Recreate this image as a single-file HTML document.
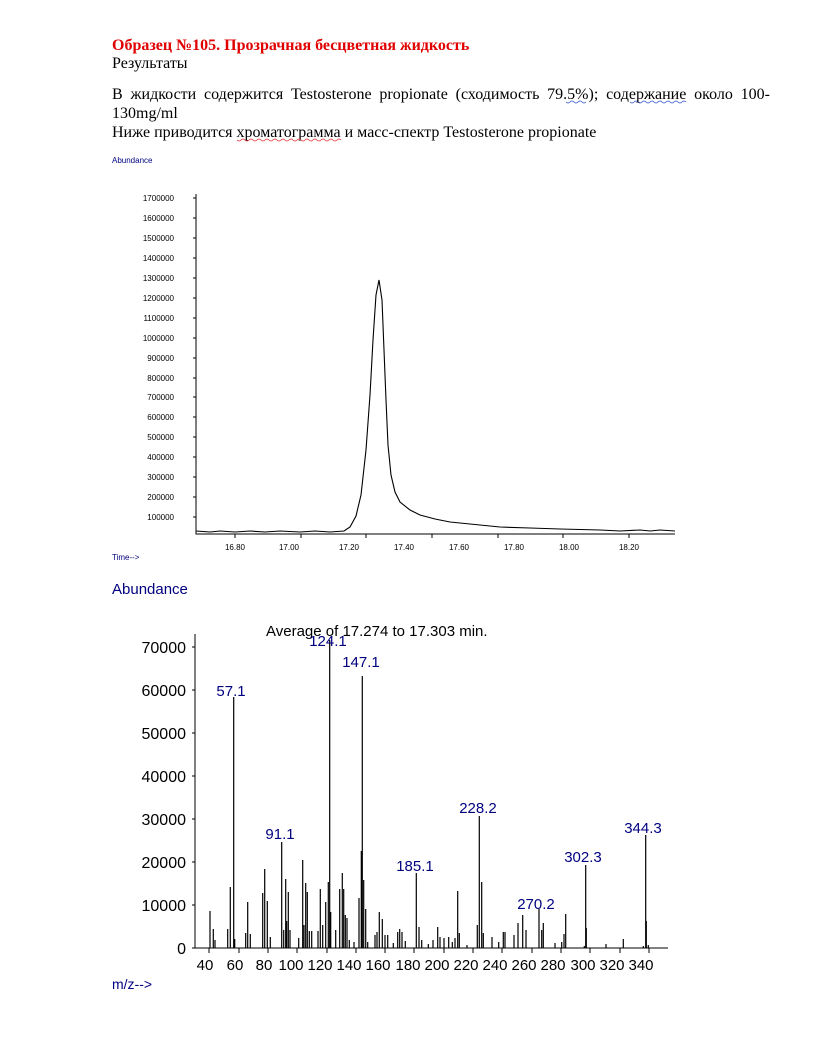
<!DOCTYPE html>
<html><head><meta charset="utf-8"><style>
html,body{margin:0;padding:0;background:#fff;}
svg{display:block;}
.s{font-family:"Liberation Serif","DejaVu Serif",serif;font-size:16px;}
.a{font-family:"Liberation Sans",Arial,sans-serif;}
.j{position:absolute;left:112px;top:86px;width:658px;font-family:"Liberation Serif","DejaVu Serif",serif;font-size:16px;line-height:17px;text-align:justify;text-align-last:justify;white-space:nowrap;}
</style></head><body>
<div style="position:relative;width:815px;height:1055px;">
<svg width="815" height="1055" viewBox="0 0 815 1055" xmlns="http://www.w3.org/2000/svg" style="position:absolute;left:0;top:0">
<rect width="815" height="1055" fill="#fff"/>
<text class="s" x="112" y="50" fill="#e00000" font-weight="bold">Образец №105. Прозрачная бесцветная жидкость</text>
<text class="s" x="112" y="68" fill="#000">Результаты</text>
<text class="s" x="112" y="118" fill="#000">130mg/ml</text>
<text class="s" x="112" y="137" fill="#000">Ниже приводится хроматограмма и масс-спектр Testosterone propionate</text>
<path d="M566 102 q2 2 4 0 t4 0 t4 0 t4 0 t4 0 M630 102 q2 2 4 0 t4 0 t4 0 t4 0 t4 0 t4 0 t4 0 t4 0 t4 0 t4 0 t4 0 t4 0 t4 0 t4 0" stroke="#3050d0" stroke-width="0.7" fill="none"/>
<path d="M237 140 q2 2 4 0 t4 0 t4 0 t4 0 t4 0 t4 0 t4 0 t4 0 t4 0 t4 0 t4 0 t4 0 t4 0 t4 0 t4 0 t4 0 t4 0 t4 0 t4 0 t4 0 t4 0 t4 0 t4 0 t4 0 t4 0 t4 0" stroke="#e03030" stroke-width="0.7" fill="none"/>

<text class="a" x="112" y="163" font-size="8" fill="#000080">Abundance</text>
<g class="a" font-size="8" fill="#000" text-anchor="end">
<text x="174" y="201">1700000</text><text x="174" y="221">1600000</text><text x="174" y="241">1500000</text><text x="174" y="261">1400000</text><text x="174" y="281">1300000</text><text x="174" y="301">1200000</text><text x="174" y="321">1100000</text><text x="174" y="341">1000000</text><text x="174" y="361">900000</text><text x="174" y="381">800000</text><text x="174" y="400">700000</text><text x="174" y="420">600000</text><text x="174" y="440">500000</text><text x="174" y="460">400000</text><text x="174" y="480">300000</text><text x="174" y="500">200000</text><text x="174" y="520">100000</text>
</g>
<path d="M196 194 V534 H675" stroke="#000" stroke-width="1" fill="none"/>
<g stroke="#000" stroke-width="1">
<path d="M193 198h3M193 218h3M193 238h3M193 258h3M193 278h3M193 298h3M193 318h3M193 338h3M193 358h3M193 378h3M193 397h3M193 417h3M193 437h3M193 457h3M193 477h3M193 497h3M193 517h3"/>
<path d="M235 534v4M301 534v4M366 534v4M432 534v4M498 534v4M563 534v4M629 534v4" />
</g>
<g class="a" font-size="8" fill="#000" text-anchor="middle">
<text x="235" y="550">16.80</text><text x="289" y="550">17.00</text><text x="349" y="550">17.20</text><text x="404" y="550">17.40</text><text x="459" y="550">17.60</text><text x="514" y="550">17.80</text><text x="569" y="550">18.00</text><text x="629" y="550">18.20</text>
</g>
<text class="a" x="112" y="560" font-size="8" fill="#000080">Time--&gt;</text>
<path d="M196 531 L210 532 L220 531 L235 532 L250 531 L265 532 L280 531 L300 532 L315 531 L330 532 L344 531 L350 527 L356 516 L361 495 L366 450 L370 395 L373 340 L376 295 L379 280 L382 300 L384 350 L386 400 L388 445 L391 475 L395 492 L400 502 L410 510 L420 515 L435 519 L450 522 L470 524 L500 527 L530 528 L560 529 L600 530 L620 531 L640 530 L650 531 L660 530 L675 531" stroke="#000" stroke-width="1.1" fill="none"/>

<text class="a" x="112" y="594" font-size="15" fill="#000080">Abundance</text>
<text class="a" x="266" y="636" font-size="15" fill="#000">Average of 17.274 to 17.303 min.</text>
<g class="a" font-size="16" fill="#000" text-anchor="end">
<text x="186" y="653">70000</text><text x="186" y="696">60000</text><text x="186" y="739">50000</text><text x="186" y="782">40000</text><text x="186" y="825">30000</text><text x="186" y="868">20000</text><text x="186" y="911">10000</text><text x="186" y="954">0</text>
</g>
<path d="M195 634 V948 H668" stroke="#000" stroke-width="1" fill="none"/>
<g stroke="#000" stroke-width="1">
<path d="M192 647h3M192 690h3M192 733h3M192 776h3M192 819h3M192 862h3M192 905h3M192 948h3"/>
<path d="M209 948v5M239 948v5M268 948v5M297 948v5M327 948v5M356 948v5M385 948v5M414 948v5M444 948v5M473 948v5M502 948v5M532 948v5M561 948v5M590 948v5M620 948v5M649 948v5"/>
</g>
<g class="a" font-size="15" fill="#000" text-anchor="middle">
<text x="205" y="970">40</text><text x="235" y="970">60</text><text x="264" y="970">80</text><text x="291" y="970">100</text><text x="320" y="970">120</text><text x="349" y="970">140</text><text x="378" y="970">160</text><text x="408" y="970">180</text><text x="437" y="970">200</text><text x="466" y="970">220</text><text x="495" y="970">240</text><text x="524" y="970">260</text><text x="553" y="970">280</text><text x="583" y="970">300</text><text x="612" y="970">320</text><text x="641" y="970">340</text>
</g>
<path stroke="#000" stroke-width="1.2" fill="none" d="
M210 948V911 M213.3 948V929 M215 948V940 M227.7 948V929 M230.3 948V887 M233.7 948V697 M234.7 948V939
M245.7 948V933 M247.7 948V902 M250.3 948V934 M262.7 948V893 M264.7 948V869 M267.3 948V901 M270.3 948V937
M281.7 948V842 M283.7 948V930 M285.7 948V879 M286.7 948V921 M288.3 948V892 M290 948V930
M298.7 948V938 M302.7 948V860 M304 948V925 M305.7 948V883 M307.3 948V892 M309.3 948V931 M311.7 948V931
M318 948V931 M320.3 948V889 M322.7 948V925 M325.7 948V902 M328.3 948V882 M329.7 948V640 M330.7 948V912
M335.7 948V930 M339.7 948V889 M342.3 948V873 M343.7 948V889 M345.3 948V915 M347 948V918 M349.3 948V940
M354 948V942 M359 948V898 M361.3 948V851 M362.3 948V676 M363.7 948V880 M365.7 948V909 M367.7 948V942
M375 948V935 M377 948V932 M379.3 948V912 M382.3 948V919 M385 948V935 M387.7 948V935 M393.3 948V943
M397.7 948V932 M399.7 948V929 M402 948V932 M405.3 948V941 M416.3 948V873 M419 948V927 M421.7 948V940
M428.3 948V944 M433 948V940 M437.7 948V927 M440 948V937 M444 948V938 M448.7 948V937 M452.3 948V942
M455 948V938 M457.7 948V891 M459.3 948V933 M467 948V945 M477.3 948V925 M479.3 948V816 M481.7 948V882 M483.3 948V933
M492 948V937 M498.7 948V942 M503.3 948V932 M505 948V932 M514 948V935 M518 948V923 M522.7 948V915 M526 948V930
M539 948V909 M541.7 948V930 M543.3 948V923 M555 948V943 M561.7 948V942 M564 948V934 M565.7 948V914
M584.3 948V946 M585.7 948V865 M586.3 948V928 M606 948V944 M623.3 948V939 M643.3 948V946 M645.7 948V835 M646.3 948V921 M648.3 948V945"/>
<g class="a" font-size="15" fill="#000080" text-anchor="middle">
<text x="231" y="696">57.1</text><text x="328" y="646">124.1</text><text x="361" y="667">147.1</text><text x="280" y="839">91.1</text><text x="415" y="871">185.1</text><text x="478" y="813">228.2</text><text x="536" y="909">270.2</text><text x="583" y="862">302.3</text><text x="643" y="833">344.3</text>
</g>
<text class="a" x="112" y="989" font-size="14" fill="#000080">m/z--&gt;</text>
</svg>
<div class="j">В жидкости содержится Testosterone propionate (сходимость 79.5%); содержание около 100-</div>
</div>
</body></html>
